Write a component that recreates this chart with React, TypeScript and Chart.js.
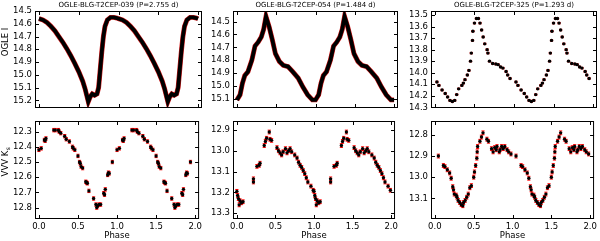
import React, { useEffect, useRef } from "react";
import { Chart, registerables } from "chart.js";

Chart.register(...registerables);

const FONT = '"DejaVu Sans", sans-serif';

// ---------------- data (one pulsation cycle each; shown twice over phase 0-2) ----------------
const titles = [
  "OGLE-BLG-T2CEP-039 (P=2.755 d)",
  "OGLE-BLG-T2CEP-054 (P=1.484 d)",
  "OGLE-BLG-T2CEP-325 (P=1.293 d)",
];

// OGLE I, T2CEP-039
const phaseI039 = [0.0, 0.05, 0.1, 0.15, 0.2, 0.25, 0.3, 0.35, 0.4, 0.45, 0.5, 0.55, 0.58, 0.6, 0.62, 0.645, 0.67, 0.7, 0.73, 0.75, 0.77, 0.79, 0.81, 0.83, 0.86, 0.9, 0.94, 0.98];
const magI039 = [14.56, 14.57, 14.59, 14.62, 14.655, 14.7, 14.745, 14.795, 14.85, 14.91, 14.975, 15.05, 15.11, 15.16, 15.21, 15.17, 15.15, 15.16, 15.15, 15.1, 14.96, 14.82, 14.7, 14.62, 14.57, 14.55, 14.55, 14.555];

// OGLE I, T2CEP-054
const phaseI054 = [0.0, 0.04, 0.07, 0.1, 0.14, 0.19, 0.23, 0.27, 0.31, 0.34, 0.37, 0.41, 0.45, 0.49, 0.54, 0.59, 0.65, 0.71, 0.78, 0.84, 0.9, 0.96];
const magI054 = [15.11, 15.07, 14.98, 14.92, 14.89, 14.8, 14.69, 14.66, 14.62, 14.56, 14.46, 14.54, 14.64, 14.75, 14.81, 14.84, 14.85, 14.89, 14.94, 15.01, 15.07, 15.11];

// OGLE I, T2CEP-325
const phaseI325 = [0.025, 0.05, 0.09, 0.13, 0.16, 0.19, 0.22, 0.25, 0.275, 0.3, 0.34, 0.36, 0.38, 0.41, 0.43, 0.45, 0.46, 0.475, 0.48, 0.5, 0.525, 0.55, 0.57, 0.59, 0.61, 0.63, 0.66, 0.67, 0.69, 0.73, 0.77, 0.8, 0.83, 0.86, 0.9, 0.92, 0.95];
const magI325 = [14.08, 14.11, 14.15, 14.18, 14.21, 14.24, 14.25, 14.24, 14.19, 14.14, 14.11, 14.09, 14.06, 14.02, 13.98, 13.9, 13.83, 13.72, 13.64, 13.57, 13.53, 13.53, 13.57, 13.63, 13.69, 13.75, 13.8, 13.83, 13.9, 13.92, 13.925, 13.93, 13.95, 13.96, 13.99, 14.02, 14.05];

// VVV Ks, T2CEP-039
const phaseK039 = [0.0, 0.03, 0.07, 0.08, 0.09, 0.19, 0.21, 0.25, 0.26, 0.28, 0.33, 0.35, 0.39, 0.43, 0.44, 0.46, 0.5, 0.52, 0.53, 0.54, 0.56, 0.6, 0.61, 0.62, 0.64, 0.7, 0.73, 0.74, 0.75, 0.77, 0.79, 0.83, 0.84, 0.85, 0.88, 0.89, 0.9, 0.94];
const magK039 = [12.42, 12.41, 12.355, 12.36, 12.345, 12.29, 12.29, 12.29, 12.3, 12.31, 12.33, 12.35, 12.365, 12.4, 12.41, 12.42, 12.46, 12.5, 12.51, 12.53, 12.54, 12.63, 12.635, 12.64, 12.69, 12.74, 12.78, 12.8, 12.79, 12.78, 12.78, 12.705, 12.715, 12.68, 12.585, 12.57, 12.575, 12.5];

// VVV Ks, T2CEP-054
const phaseK054 = [0.0, 0.01, 0.02, 0.03, 0.04, 0.06, 0.08, 0.215, 0.215, 0.26, 0.29, 0.3, 0.355, 0.37, 0.385, 0.42, 0.43, 0.45, 0.52, 0.54, 0.56, 0.58, 0.6, 0.63, 0.65, 0.67, 0.69, 0.71, 0.75, 0.78, 0.8, 0.82, 0.84, 0.86, 0.88, 0.9, 0.92, 0.96, 0.99];
const magK054 = [13.195, 13.215, 13.23, 13.26, 13.24, 13.25, 13.245, 13.135, 13.15, 13.075, 13.07, 13.06, 12.975, 12.955, 12.94, 12.91, 12.945, 12.95, 12.985, 13.0, 13.01, 13.02, 13.005, 12.99, 13.01, 13.0, 12.99, 13.005, 13.02, 13.035, 13.055, 13.07, 13.08, 13.095, 13.11, 13.13, 13.15, 13.17, 13.19];

// VVV Ks, T2CEP-325
const phaseK325 = [0.045, 0.11, 0.13, 0.16, 0.19, 0.21, 0.23, 0.24, 0.25, 0.275, 0.285, 0.3, 0.32, 0.34, 0.36, 0.37, 0.39, 0.41, 0.43, 0.45, 0.47, 0.5, 0.51, 0.525, 0.54, 0.545, 0.55, 0.58, 0.6, 0.62, 0.67, 0.69, 0.73, 0.75, 0.77, 0.79, 0.8, 0.83, 0.84, 0.86, 0.88, 0.9, 0.93, 0.95, 0.98];
const magK325 = [12.9, 12.945, 12.95, 12.965, 12.98, 13.005, 13.045, 13.06, 13.08, 13.085, 13.095, 13.11, 13.12, 13.13, 13.135, 13.12, 13.11, 13.095, 13.08, 13.05, 13.04, 13.0, 12.975, 12.945, 12.91, 12.88, 12.855, 12.83, 12.81, 12.79, 12.82, 12.83, 12.865, 12.88, 12.86, 12.87, 12.855, 12.88, 12.87, 12.855, 12.865, 12.855, 12.87, 12.88, 12.89];

// tick labels
const phaseTicks = [0, 0.5, 1.0, 1.5, 2.0];
const ticksI039 = [14.5, 14.6, 14.7, 14.8, 14.9, 15.0, 15.1, 15.2];
const ticksI054 = [14.5, 14.6, 14.7, 14.8, 14.9, 15.0, 15.1];
const ticksI325 = [13.5, 13.6, 13.7, 13.8, 13.9, 14.0, 14.1, 14.2, 14.3];
const ticksK039 = [12.3, 12.4, 12.5, 12.6, 12.7, 12.8];
const ticksK054 = [12.9, 13.0, 13.1, 13.2, 13.3];
const ticksK325 = [12.8, 12.9, 13.0, 13.1];

// ---------------------------------------------------------------------------------------------

function fold(phase: number[], mag: number[], wrap: boolean) {
  const pts: { x: number; y: number }[] = [];
  for (let c = 0; c < 2; c++) phase.forEach((p, i) => pts.push({ x: p + c, y: mag[i] }));
  if (wrap) pts.push({ x: phase[0] + 2, y: mag[0] });
  return pts;
}

type PanelProps = {
  left: number; right: number; top: number; bottom: number;
  padL: number; padR: number; padT: number; padB: number;
  phase: number[]; mag: number[];
  yMin: number; yMax: number; yTicks: number[];
  mode: "line" | "points"; err: number;
  title: string; yTitle?: string; yTitleSub?: string; yTitleY?: number;
  xTitle?: string;
};

function Panel(p: PanelProps) {
  const ref = useRef<HTMLCanvasElement>(null);
  const plotW = p.right - p.left + 1;
  const plotH = p.bottom - p.top + 1;
  const W = p.padL + plotW + p.padR;
  const H = p.padT + plotH + p.padB;
  const cLeft = p.left - p.padL;
  const cTop = p.top - p.padT;

  useEffect(() => {
    const pts = fold(p.phase, p.mag, p.mode === "line");
    const datasets: any[] =
      p.mode === "line"
        ? [
            { data: pts, showLine: true, pointRadius: 0, borderColor: "#000000", borderWidth: 3.8, order: 0 },
            { data: pts, showLine: true, pointRadius: 0, borderColor: "#d01818", borderWidth: 4.9, order: 1 },
          ]
        : [
            { data: pts, showLine: false, pointRadius: 1.7, pointBackgroundColor: "#000000", pointBorderWidth: 0, pointHoverRadius: 1.7 },
          ];

    const deco = {
      id: "deco",
      beforeDatasetsDraw(chart: any) {
        if (p.mode !== "points" || p.err <= 0) return;
        const { ctx, scales } = chart;
        const xs = scales.x, ys = scales.y;
        ctx.save();
        ctx.strokeStyle = "#ff0000";
        ctx.lineWidth = 1;
        pts.forEach((d) => {
          const px = xs.getPixelForValue(d.x);
          const y1 = ys.getPixelForValue(d.y - p.err);
          const y2 = ys.getPixelForValue(d.y + p.err);
          ctx.beginPath();
          ctx.moveTo(px, y1); ctx.lineTo(px, y2);
          ctx.moveTo(px - 1.6, y1); ctx.lineTo(px + 1.6, y1);
          ctx.moveTo(px - 1.6, y2); ctx.lineTo(px + 1.6, y2);
          ctx.stroke();
        });
        ctx.restore();
      },
      afterDraw(chart: any) {
        const { ctx, chartArea: a, scales } = chart;
        const xs = scales.x, ys = scales.y;
        ctx.save();
        ctx.strokeStyle = "#000000";
        ctx.lineWidth = 1;
        ctx.strokeRect(a.left + 0.5, a.top + 0.5, a.right - a.left - 1, a.bottom - a.top - 1);
        const tl = 4;
        ctx.beginPath();
        phaseTicks.forEach((v) => {
          const px = Math.round(xs.getPixelForValue(v)) + 0.5;
          ctx.moveTo(px, a.bottom); ctx.lineTo(px, a.bottom - tl);
          ctx.moveTo(px, a.top); ctx.lineTo(px, a.top + tl);
        });
        p.yTicks.forEach((v) => {
          const py = Math.round(ys.getPixelForValue(v)) + 0.5;
          ctx.moveTo(a.left, py); ctx.lineTo(a.left + tl, py);
          ctx.moveTo(a.right, py); ctx.lineTo(a.right - tl, py);
        });
        ctx.stroke();

        ctx.fillStyle = "#000000";
        ctx.font = `7px ${FONT}`;
        ctx.textAlign = "center";
        ctx.textBaseline = "middle";
        ctx.fillText(p.title, (a.left + a.right) / 2, a.top - 6);

        if (p.xTitle) {
          ctx.font = `8.5px ${FONT}`;
          ctx.fillText(p.xTitle, (a.left + a.right) / 2, a.bottom + 17);
        }
        if (p.yTitle) {
          const cy = (p.yTitleY ?? (p.top + p.bottom) / 2) - cTop;
          ctx.translate(6 - cLeft, cy);
          ctx.rotate(-Math.PI / 2);
          ctx.font = `8.5px ${FONT}`;
          const main = p.yTitle;
          const wMain = ctx.measureText(main).width;
          let wSub = 0;
          if (p.yTitleSub) {
            ctx.font = `6px ${FONT}`;
            wSub = ctx.measureText(p.yTitleSub).width;
          }
          const start = -(wMain + wSub) / 2;
          ctx.textAlign = "left";
          ctx.font = `8.5px ${FONT}`;
          ctx.fillText(main, start, 0);
          if (p.yTitleSub) {
            ctx.font = `6px ${FONT}`;
            ctx.fillText(p.yTitleSub, start + wMain + 0.5, 2.5);
          }
        }
        ctx.restore();
      },
    };

    const chart = new Chart(ref.current as HTMLCanvasElement, {
      type: "scatter",
      data: { datasets },
      options: {
        animation: false,
        responsive: false,
        devicePixelRatio: 1,
        events: [],
        layout: { padding: { left: 0, right: p.padR, top: p.padT, bottom: 0 } },
        plugins: { legend: { display: false }, tooltip: { enabled: false }, title: { display: false } },
        scales: {
          x: {
            type: "linear",
            min: -0.05,
            max: 2.05,
            afterBuildTicks: (s: any) => { s.ticks = phaseTicks.map((v) => ({ value: v })); },
            afterFit: (s: any) => { s.height = p.padB; },
            grid: { display: false, drawTicks: false },
            border: { display: false },
            ticks: {
              display: !!p.xTitle,
              autoSkip: false,
              maxRotation: 0,
              padding: 3,
              color: "#000000",
              font: { family: FONT, size: 8.5 },
              callback: (v: any) => Number(v).toFixed(1),
            },
          },
          y: {
            type: "linear",
            reverse: true,
            min: p.yMin,
            max: p.yMax,
            afterBuildTicks: (s: any) => { s.ticks = p.yTicks.map((v) => ({ value: v })); },
            afterFit: (s: any) => { s.width = p.padL; },
            grid: { display: false, drawTicks: false },
            border: { display: false },
            ticks: {
              autoSkip: false,
              padding: 3,
              color: "#000000",
              font: { family: FONT, size: 8.5 },
              callback: (v: any) => Number(v).toFixed(1),
            },
          },
        },
      } as any,
      plugins: [deco],
    });
    return () => chart.destroy();
  }, []);

  return (
    <canvas
      ref={ref}
      width={W}
      height={H}
      style={{ position: "absolute", left: cLeft, top: cTop, width: W, height: H }}
    />
  );
}

export default function App() {
  const cols = [
    { left: 35, right: 201, padL: 35 },
    { left: 233, right: 397, padL: 30 },
    { left: 431, right: 596, padL: 30 },
  ];
  const topRow = { top: 11, bottom: 107, padT: 11, padB: 9 };
  const botRow = { top: 121, bottom: 218, padT: 11, padB: 23 };
  return (
    <div style={{ position: "fixed", left: 0, top: 0, width: 600, height: 241, background: "#ffffff", overflow: "hidden" }}>
      <Panel {...cols[0]} {...topRow} padR={3} phase={phaseI039} mag={magI039} yMin={14.5} yMax={15.26} yTicks={ticksI039} mode="line" err={0} title={titles[0]} yTitle="OGLE I" yTitleY={42} />
      <Panel {...cols[1]} {...topRow} padR={3} phase={phaseI054} mag={magI054} yMin={14.417} yMax={15.173} yTicks={ticksI054} mode="line" err={0} title={titles[1]} />
      <Panel {...cols[2]} {...topRow} padR={3} phase={phaseI325} mag={magI325} yMin={13.465} yMax={14.306} yTicks={ticksI325} mode="points" err={0.006} title={titles[2]} />
      <Panel {...cols[0]} {...botRow} padR={3} phase={phaseK039} mag={magK039} yMin={12.23} yMax={12.875} yTicks={ticksK039} mode="points" err={0.011} title="" yTitle="VVV K" yTitleSub="s" yTitleY={162} xTitle="Phase" />
      <Panel {...cols[1]} {...botRow} padR={3} phase={phaseK054} mag={magK054} yMin={12.857} yMax={13.328} yTicks={ticksK054} mode="points" err={0.009} title="" xTitle="Phase" />
      <Panel {...cols[2]} {...botRow} padR={3} phase={phaseK325} mag={magK325} yMin={12.734} yMax={13.198} yTicks={ticksK325} mode="points" err={0.009} title="" xTitle="Phase" />
    </div>
  );
}
